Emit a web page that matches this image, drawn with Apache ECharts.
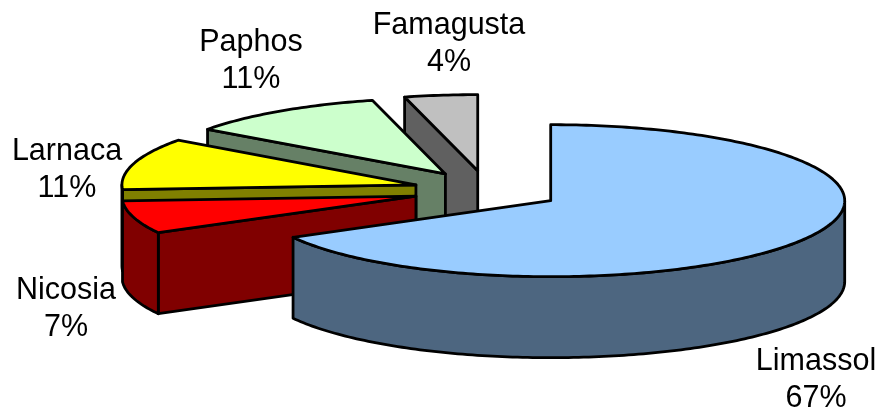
<!DOCTYPE html>
<html>
<head>
<meta charset="utf-8">
<title>Pie</title>
<script src="https://cdn.jsdelivr.net/npm/echarts@6/dist/echarts.min.js"></script>
<style>
    html, body { margin: 0; padding: 0; background: #fff; }
    #chart { width: 880px; height: 412px; }
</style>
</head>
<body>
<div id="chart"></div>
<script>
    // clockwise from 12 o'clock
    let categories = ["Limassol", "Nicosia", "Larnaca", "Paphos", "Famagusta"];
    let shares = [67, 7, 11, 11, 4];

    let topColors = ["#99CCFF", "#FF0000", "#FFFF00", "#CCFFCC", "#C0C0C0"];
    let wallColors = ["#4D6680", "#800000", "#808000", "#668066", "#606060"];
    // label centre, first line
    let labelX = [816, 66, 67, 251, 449];
    let labelY = [360, 289, 150, 41, 24];

    // ellipse of the tilted pie
    let cx = 487, cy = 190.5, rx = 294, ry = 76, depth = 81;
    let explodeX = 74, explodeY = 20;

    let total = shares.reduce((a, b) => a + b, 0);
    let startAngles = [];
    let sum = 0;
    shares.forEach((v) => {
        startAngles.push((sum / total) * 360);
        sum += v;
    });

    const rad = (d) => (d * Math.PI) / 180;

    function renderSlice(params, api) {
        let i = api.value(0);
        let a0 = api.value(1);
        let a1 = a0 + (api.value(2) / total) * 360;
        let mid = rad((a0 + a1) / 2);
        let ox = cx + explodeX * Math.sin(mid);
        let oy = cy - explodeY * Math.cos(mid);
        let rim = (d, dz) => [ox + rx * Math.sin(rad(d)), oy - ry * Math.cos(rad(d)) + (dz || 0)];
        let arc = (from, to, dz) => {
            let pts = [];
            let n = Math.max(2, Math.ceil(Math.abs(to - from)));
            for (let k = 0; k <= n; k++) {
                pts.push(rim(from + ((to - from) * k) / n, dz));
            }
            return pts;
        };
        let face = (points, fill) => ({
            type: "polygon",
            shape: { points: points },
            style: { fill: fill, stroke: "#000", lineWidth: 2.8, lineJoin: "round" },
        });
        let children = [];
        // cut faces, only the ones turned to the viewer
        if (Math.sin(rad(a0)) < -0.001) {
            let p = rim(a0);
            children.push(face([p, [ox, oy], [ox, oy + depth], [p[0], p[1] + depth]], wallColors[i]));
        }
        if (Math.sin(rad(a1)) > 0.001) {
            let p = rim(a1);
            children.push(face([p, [ox, oy], [ox, oy + depth], [p[0], p[1] + depth]], wallColors[i]));
        }
        // outer wall, front half of the ellipse
        let w0 = Math.max(a0, 90);
        let w1 = Math.min(a1, 270);
        if (w1 > w0) {
            children.push(face(arc(w0, w1, 0).concat(arc(w1, w0, depth)), wallColors[i]));
        }
        children.push(face([[ox, oy]].concat(arc(a0, a1, 0)), topColors[i]));
        children.push({
            type: "text",
            style: {
                x: labelX[i],
                y: labelY[i] - 16.5,
                text: categories[i] + "\n" + Math.round((api.value(2) / total) * 100) + "%",
                fill: "#000",
                font: '30.5px "Liberation Sans", Arial, sans-serif',
                lineHeight: 37,
                align: "center",
                verticalAlign: "top",
            },
        });
        return { type: "group", children: children };
    }

    // painted back to front
    let rows = categories.map((c, i) => [i, startAngles[i], shares[i], c]).reverse();

    let myChart = echarts.init(document.getElementById("chart"), null, { renderer: "canvas" });
    myChart.setOption({
        animation: false,
        backgroundColor: "#fff",
        series: [
            {
                type: "custom",
                coordinateSystem: "none",
                silent: true,
                renderItem: renderSlice,
                data: rows,
            },
        ],
    });
</script>
</body>
</html>
